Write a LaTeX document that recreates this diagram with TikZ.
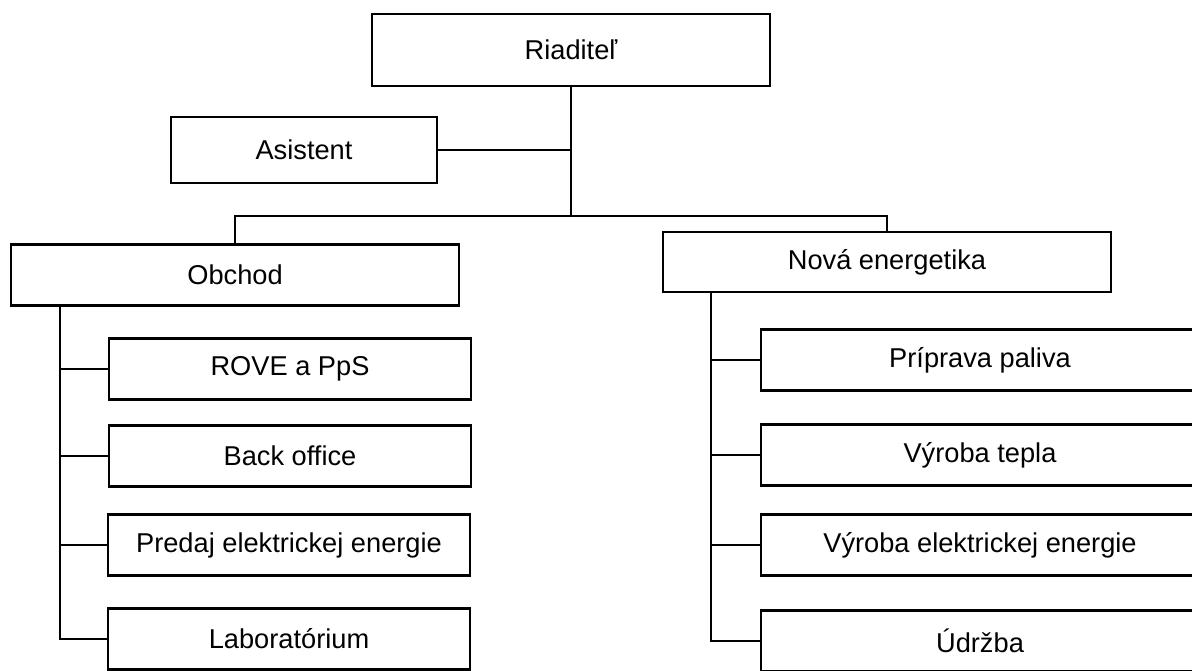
\documentclass[tikz,border=0pt]{standalone}
\usepackage{fontspec}
\setmainfont{Liberation Sans}

\begin{document}
\begin{tikzpicture}[x=0.02cm,y=-0.02cm,line width=1.3pt,
  every node/.style={draw,line width=1.3pt,inner sep=0pt,minimum height=1.22cm,font=\fontsize{15.5}{18}\selectfont},
  leftunit/.style={minimum width=7.24cm},
  rightunit/.style={minimum width=8.76cm}]
  \useasboundingbox (0,0) rectangle (1192,671);
  \clip (0,0) rectangle (1192,671);

  \node[minimum width=7.96cm,minimum height=1.44cm] at (571, 50) (riaditel) {Riaditeľ};
  \node[minimum width=5.32cm,minimum height=1.32cm] at (304, 150) (asistent) {Asistent};

  \node[minimum width=8.96cm] at (235, 275) (obchod) {Obchod};
  \node[minimum width=8.96cm,minimum height=1.2cm] at (887, 262) (nova) {Nová energetika};

  \node[leftunit] at (290, 369) (rove) {ROVE a PpS};
  \node[leftunit] at (290, 456) (back) {Back office};
  \node[leftunit] at (289, 545) (predaj) {Predaj elektrickej energie};
  \node[leftunit] at (289, 639) (lab) {Laboratórium};

  \node[rightunit] at (980, 360) (priprava) {Príprava paliva};
  \node[rightunit] at (980, 455) (teplo) {Výroba tepla};
  \node[rightunit] at (980, 545) (elektrina) {Výroba elektrickej energie};
  \node[rightunit] at (980, 641) (udrzba) {Údržba};

  \coordinate (busM) at (571, 216);
  \coordinate (busL) at (235, 216);
  \coordinate (busR) at (887, 216);
  \coordinate (trunkL) at (60, 0);
  \coordinate (trunkR) at (711, 0);

  \draw (riaditel.south) -- (busM);
  \draw (asistent.east) -- (asistent.east -| busM);
  \draw (obchod.north) -- (busL) -- (busR) -- (nova.north);

  \draw (obchod.south -| trunkL) |- (lab.west);
  \draw (rove.west) -- (rove.west -| trunkL);
  \draw (back.west) -- (back.west -| trunkL);
  \draw (predaj.west) -- (predaj.west -| trunkL);

  \draw (nova.south -| trunkR) |- (udrzba.west);
  \draw (priprava.west) -- (priprava.west -| trunkR);
  \draw (teplo.west) -- (teplo.west -| trunkR);
  \draw (elektrina.west) -- (elektrina.west -| trunkR);
\end{tikzpicture}
\end{document}
